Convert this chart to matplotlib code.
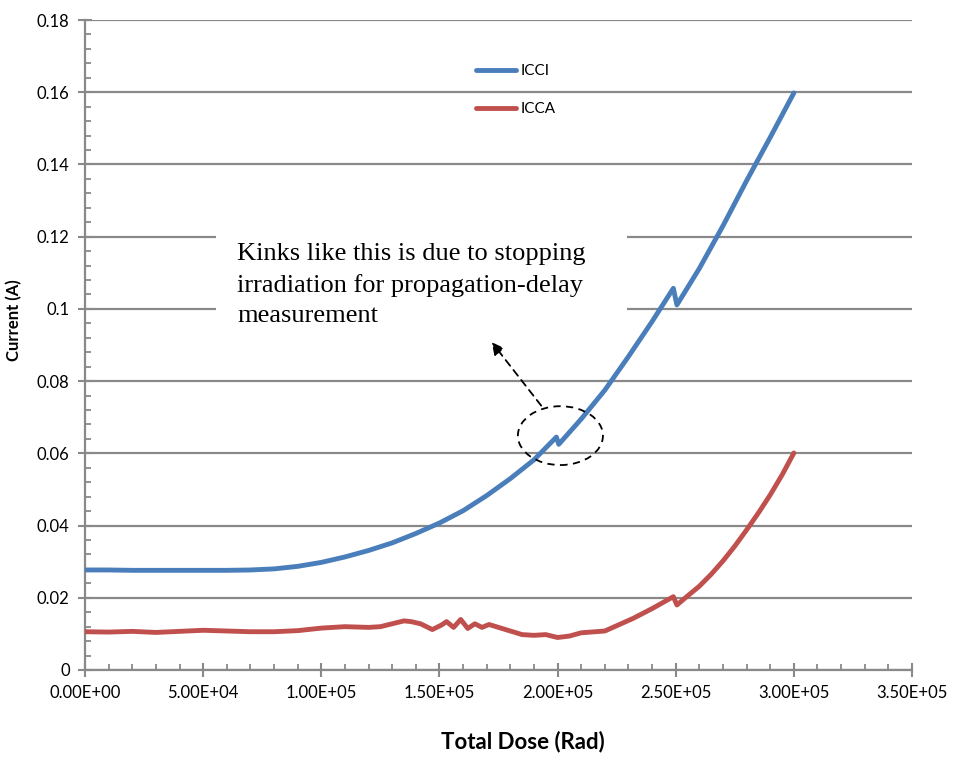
import matplotlib
matplotlib.use("Agg")
import matplotlib.pyplot as plt
from matplotlib.patches import Ellipse, Rectangle

# data
icci_dose = [0, 1e4, 2e4, 3e4, 4e4, 5e4, 6e4, 7e4, 8e4, 9e4, 1e5, 1.1e5, 1.2e5,
             1.3e5, 1.4e5, 1.5e5, 1.6e5, 1.7e5, 1.8e5, 1.9e5, 1.995e5, 2.005e5,
             2.1e5, 2.2e5, 2.3e5, 2.4e5, 2.49e5, 2.505e5, 2.6e5, 2.7e5, 2.8e5,
             2.9e5, 3.0e5]
icci = [0.0277, 0.0277, 0.0276, 0.0276, 0.0276, 0.0276, 0.0276, 0.0277, 0.0280,
        0.0287, 0.0298, 0.0313, 0.0331, 0.0352, 0.0378, 0.0407, 0.0441, 0.0483,
        0.0530, 0.0582, 0.0645, 0.0625, 0.0695, 0.0775, 0.0868, 0.0965, 0.1057,
        0.1011, 0.1112, 0.1230, 0.1355, 0.1475, 0.1598]

icca_dose = [0, 1e4, 2e4, 3e4, 4e4, 5e4, 6e4, 7e4, 8e4, 9e4, 1e5, 1.1e5, 1.2e5,
             1.25e5, 1.3e5, 1.35e5, 1.38e5, 1.42e5, 1.47e5, 1.51e5, 1.53e5,
             1.56e5, 1.59e5, 1.62e5, 1.65e5, 1.68e5, 1.71e5, 1.75e5, 1.8e5,
             1.85e5, 1.9e5, 1.95e5, 2.0e5, 2.05e5, 2.1e5, 2.2e5, 2.32e5, 2.4e5,
             2.49e5, 2.505e5, 2.55e5, 2.6e5, 2.65e5, 2.7e5, 2.75e5, 2.8e5,
             2.85e5, 2.9e5, 2.95e5, 3.0e5]
icca = [0.0106, 0.0105, 0.0107, 0.0104, 0.0107, 0.0110, 0.0108, 0.0106, 0.0106,
        0.0109, 0.0116, 0.0120, 0.0118, 0.0120, 0.0128, 0.0136, 0.0134, 0.0128,
        0.0112, 0.0125, 0.0134, 0.0118, 0.0140, 0.0115, 0.0128, 0.0118, 0.0126,
        0.0118, 0.0108, 0.0098, 0.0096, 0.0098, 0.0090, 0.0094, 0.0103, 0.0108,
        0.0143, 0.0170, 0.0203, 0.0180, 0.0205, 0.0232, 0.0265, 0.0302, 0.0343,
        0.0388, 0.0435, 0.0485, 0.0540, 0.0601]

x_ticks = [0, 5e4, 1e5, 1.5e5, 2e5, 2.5e5, 3e5, 3.5e5]
x_labels = ["0.00E+00", "5.00E+04", "1.00E+05", "1.50E+05", "2.00E+05",
            "2.50E+05", "3.00E+05", "3.50E+05"]
y_ticks = [0, 0.02, 0.04, 0.06, 0.08, 0.1, 0.12, 0.14, 0.16, 0.18]
y_labels = ["0", "0.02", "0.04", "0.06", "0.08", "0.1", "0.12", "0.14", "0.16", "0.18"]

note = "Kinks like this is due to stopping\nirradiation for propagation-delay\nmeasurement"

grid_c = "#898989"
fig = plt.figure(figsize=(9.56, 7.59), dpi=100)
ax = fig.add_axes([85 / 956, 89 / 759, 827 / 956, 650 / 759])

ax.plot(icci_dose, icci, color="#4a7ebb", lw=3.5, label="ICCI", zorder=3,
        solid_capstyle="round")
ax.plot(icca_dose, icca, color="#c0504d", lw=3.5, label="ICCA", zorder=3,
        solid_capstyle="round")

ax.set_xlim(0, 3.5e5)
ax.set_ylim(0, 0.18)
ax.set_xticks(x_ticks)
ax.set_xticklabels(x_labels)
ax.set_yticks(y_ticks)
ax.set_yticklabels(y_labels)
ax.set_xticks([i * 1e4 for i in range(36)], minor=True)
ax.set_yticks([i * 0.004 for i in range(46)], minor=True)

ax.set_axisbelow(True)
ax.grid(axis="y", which="major", color=grid_c, lw=1.6)
for s in ["top", "right"]:
    ax.spines[s].set_visible(False)
for s in ["left", "bottom"]:
    ax.spines[s].set_color(grid_c)
    ax.spines[s].set_linewidth(1.6)
ax.tick_params(which="major", direction="inout", length=10, width=1.5,
               color=grid_c, labelsize=12, pad=6)
ax.tick_params(which="minor", direction="in", length=4, width=1.3, color=grid_c)
for lab in ax.get_xticklabels() + ax.get_yticklabels():
    lab.set_fontfamily("Lato")

ax.set_xlabel("Total Dose (Rad)", fontsize=16, fontweight="bold",
              family="Lato", labelpad=21)
ax.xaxis.label.set_x(0.53)
fig.text(14 / 956, 1 - 320 / 759, "Current (A)", rotation=90, fontsize=12,
         fontweight="bold", family="Lato", ha="center", va="center")

# white box behind the note
ax.add_patch(Rectangle((55400, 0.0928), 174000, 0.0286, facecolor="white",
                       edgecolor="none", zorder=1))
ax.text(64300, 0.1183, note, family="Liberation Serif", fontsize=19,
        va="top", ha="left", linespacing=1.5, zorder=4)

ax.add_patch(Ellipse((2.012e5, 0.0649), 3.6e4, 0.0163, fill=False,
                     ls=(0, (4, 3)), lw=1.3, color="black", zorder=4))
ax.annotate("", xy=(1.714e5, 0.0914), xytext=(1.938e5, 0.0726),
            arrowprops=dict(arrowstyle="-|>", ls=(0, (4, 3)), lw=1.3,
                            color="black", mutation_scale=18), zorder=4)

leg = ax.legend(loc="upper left", bbox_to_anchor=(0.473, 0.932), frameon=False,
                prop={"family": "Lato", "size": 11}, borderpad=0,
                borderaxespad=0, handlelength=2.6, handletextpad=0.3,
                labelspacing=1.55)

fig.savefig("out.png", dpi=100)
